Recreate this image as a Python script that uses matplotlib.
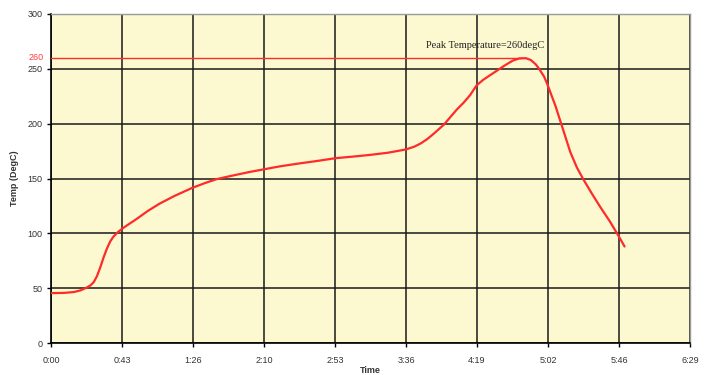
import matplotlib
matplotlib.use("Agg")
import matplotlib.pyplot as plt
import matplotlib.ticker as ticker
import matplotlib.transforms as mtransforms

# reflow profile (time in seconds, temperature in degC)
time_s = [0, 8, 14, 18, 21, 24, 26, 28, 30, 32, 34, 36, 38, 41, 45, 52, 59,
          66, 75, 86, 94, 101, 110, 121, 130, 139, 150, 162, 173, 184, 194,
          205, 216, 221, 225, 229, 233, 236, 239, 243, 247, 251, 255, 259,
          263, 267, 271, 276, 281, 285, 289, 292, 295, 297, 300, 302, 304,
          307, 310, 313, 316, 320, 324, 329, 334, 340, 345, 349]
temp_c = [45.5, 45.7, 46.5, 48, 50, 52.5, 55.5, 61, 69, 78, 86, 92.5, 97,
          101.5, 106, 113, 120.5, 127, 134, 141.5, 146, 149.5, 152.5, 156,
          158.5, 161, 163.5, 166, 168.5, 170, 171.5, 173.5, 176.5, 179, 182,
          186, 191, 195, 199, 206, 213, 219, 226, 235, 240, 244, 248, 253,
          257.5, 259.5, 259.7, 258, 254, 250, 243, 236, 228, 216, 202, 188,
          174, 160, 149, 136.5, 124.5, 111, 98.5, 88]

peak_temp = 260
peak_time = 286
peak_label = "Peak Temperature=260degC"
x_step = 43.2          # Excel axis step (0.0005 day)
x_max = 388.8


def fmt_time(v, pos):
    s = int(round(v))
    return f"{s // 60}:{s % 60:02d}"


fig = plt.figure(figsize=(7.1, 3.75), dpi=100)
ax = fig.add_axes([0.0718, 0.0853, 0.9, 0.8774])
ax.set_facecolor("#fcf8cf")

ax.plot(time_s, temp_c, color="#ff2a2a", linewidth=1.6, zorder=4,
        solid_joinstyle="round", solid_capstyle="round")
ax.plot([0, peak_time], [peak_temp, peak_temp], color="#ff2a2a", linewidth=1.0, zorder=4)
ax.text(228, 271, peak_label, family="Liberation Serif", fontsize=7.5,
        color="#222222", va="center", ha="left", zorder=5)

ax.set_xlim(0, x_max)
ax.set_ylim(0, 300)
ax.xaxis.set_major_locator(ticker.MultipleLocator(x_step))
ax.xaxis.set_major_formatter(ticker.FuncFormatter(fmt_time))
ax.yaxis.set_major_locator(ticker.MultipleLocator(50))

ax.grid(True, color="#1a1a1a", linewidth=1.1, zorder=1)
ax.set_axisbelow(True)
for side in ["top", "right"]:
    ax.spines[side].set_color("#9a9a9a")
    ax.spines[side].set_linewidth(1.0)
for side in ["left", "bottom"]:
    ax.spines[side].set_color("black")
    ax.spines[side].set_linewidth(1.2)

ax.tick_params(axis="both", direction="out", length=3, width=1, colors="black",
               labelsize=6.5, pad=3)
ax.tick_params(axis="x", pad=6)
for lbl in ax.get_xticklabels() + ax.get_yticklabels():
    lbl.set_family("Liberation Sans")
    lbl.set_color("#333333")

# red 260 label beside the y axis
trans = mtransforms.blended_transform_factory(ax.transAxes, ax.transData)
ax.text(-0.012, peak_temp, str(peak_temp), transform=trans, ha="right", va="center",
        fontsize=6.5, color="#ff4040", family="Liberation Sans")

ax.set_ylabel("Temp (DegC)", fontsize=6.5, family="Liberation Sans",
              fontweight="bold", color="#333333", labelpad=6)
ax.set_xlabel("Time", fontsize=6.5, family="Liberation Sans",
              fontweight="bold", color="#333333", labelpad=1)

fig.savefig("out.png", dpi=100, facecolor="white")
